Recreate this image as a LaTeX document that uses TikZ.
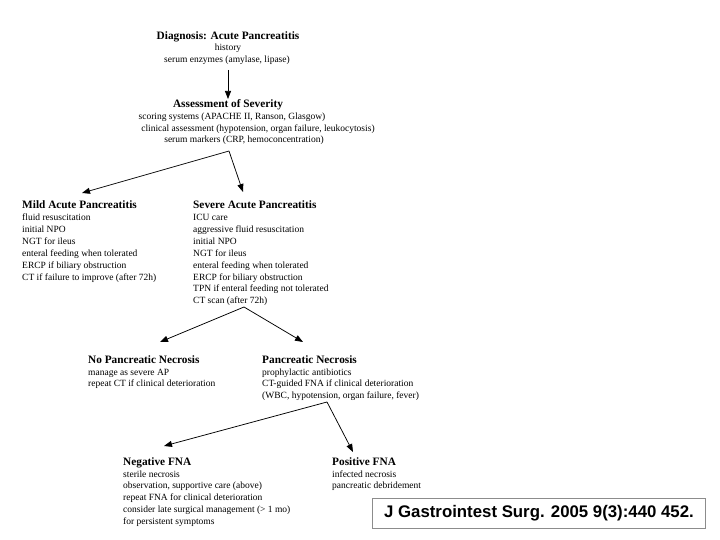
\documentclass[tikz,border=0pt]{standalone}
\usepackage{fontspec}
\setmainfont{Liberation Serif}
\newfontfamily\citefont{Liberation Sans}
\usetikzlibrary{arrows.meta}
\begin{document}
\begin{tikzpicture}[x=1pt,y=-1pt,
  hd/.style={font=\bfseries\fontsize{11.3}{13}\selectfont, inner sep=0pt},
  bd/.style={font=\fontsize{9.5}{11.8}\selectfont, inner sep=0pt},
  arr/.style={-{Triangle[length=8pt,width=6pt]}, line width=0.75pt},
  citebox/.style={draw=black!45, line width=1.8pt, inner sep=0pt, minimum width=333pt, minimum height=30pt,
    font=\citefont\bfseries\fontsize{16.8}{18}\selectfont}]
\useasboundingbox (0,0) rectangle (720,540);
\fill[white] (0,0) rectangle (720,540);

% Diagnosis
\node[hd, anchor=base] (diag) at (228,39.5) {Diagnosis: Acute Pancreatitis};
\node[bd, anchor=base] (diag1) at (228,51) {history};
\node[bd, anchor=base] (diag2) at (227,62.5) {serum enzymes (amylase, lipase)};

% Assessment
\node[hd, anchor=base] (ass) at (228,108) {Assessment of Severity};
\node[bd, anchor=base] (ass1) at (232,120) {scoring systems (APACHE II, Ranson, Glasgow)};
\node[bd, anchor=base] (ass2) at (258,131.5) {clinical assessment (hypotension, organ failure, leukocytosis)};
\node[bd, anchor=base] (ass3) at (244,143) {serum markers (CRP, hemoconcentration)};

\coordinate (a0s) at (228,70);
\coordinate (a0e) at (228,99);
\draw[arr] (a0s) -- (a0e);

% split 1
\coordinate (s1) at (229,151);
\coordinate (t1l) at (82,193);
\coordinate (t1r) at (243,192);
\draw[arr] (s1) -- (t1l);
\draw[arr] (s1) -- (t1r);

% Mild
\node[hd, anchor=base west] (mild) at (22,209) {Mild Acute Pancreatitis};
\foreach \t [count=\i] in {fluid resuscitation, initial NPO, NGT for ileus, enteral feeding when tolerated, ERCP if biliary obstruction, {CT if failure to improve (after 72h)}}
  \node[bd, anchor=base west] (mild\i) at (22,{221+11.8*(\i-1)}) {\t};

% Severe
\node[hd, anchor=base west] (sev) at (193,209) {Severe Acute Pancreatitis};
\foreach \t [count=\i] in {ICU care, aggressive fluid resuscitation, initial NPO, NGT for ileus, enteral feeding when tolerated, ERCP for biliary obstruction, TPN if enteral feeding not tolerated, {CT scan (after 72h)}}
  \node[bd, anchor=base west] (sev\i) at (193,{221+11.8*(\i-1)}) {\t};

% split 2
\coordinate (s2) at (244,307);
\coordinate (t2l) at (160,342);
\coordinate (t2r) at (303,342);
\draw[arr] (s2) -- (t2l);
\draw[arr] (s2) -- (t2r);

% No necrosis
\node[hd, anchor=base west] (nonec) at (88,363) {No Pancreatic Necrosis};
\foreach \t [count=\i] in {manage as severe AP, repeat CT if clinical deterioration}
  \node[bd, anchor=base west] (nonec\i) at (88,{375+11.8*(\i-1)}) {\t};

% Necrosis
\node[hd, anchor=base west] (nec) at (262,363) {Pancreatic Necrosis};
\foreach \t [count=\i] in {prophylactic antibiotics, CT-guided FNA if clinical deterioration, {(WBC, hypotension, organ failure, fever)}}
  \node[bd, anchor=base west] (nec\i) at (262,{375+11.8*(\i-1)}) {\t};

% split 3
\coordinate (s3) at (327,402);
\coordinate (t3l) at (164,446);
\coordinate (t3r) at (353,452);
\draw[arr] (s3) -- (t3l);
\draw[arr] (s3) -- (t3r);

% Negative FNA
\node[hd, anchor=base west] (neg) at (123,465) {Negative FNA};
\foreach \t [count=\i] in {sterile necrosis, {observation, supportive care (above)}, repeat FNA for clinical deterioration, consider late surgical management (> 1 mo), for persistent symptoms}
  \node[bd, anchor=base west] (neg\i) at (123,{477+11.8*(\i-1)}) {\t};

% Positive FNA
\node[hd, anchor=base west] (pos) at (332,465) {Positive FNA};
\foreach \t [count=\i] in {infected necrosis, pancreatic debridement}
  \node[bd, anchor=base west] (pos\i) at (332,{477+11.8*(\i-1)}) {\t};

% citation
\node[citebox] (cite) at (539,513.5) {J Gastrointest Surg. 2005 9(3):440 452.};
\end{tikzpicture}
\end{document}
